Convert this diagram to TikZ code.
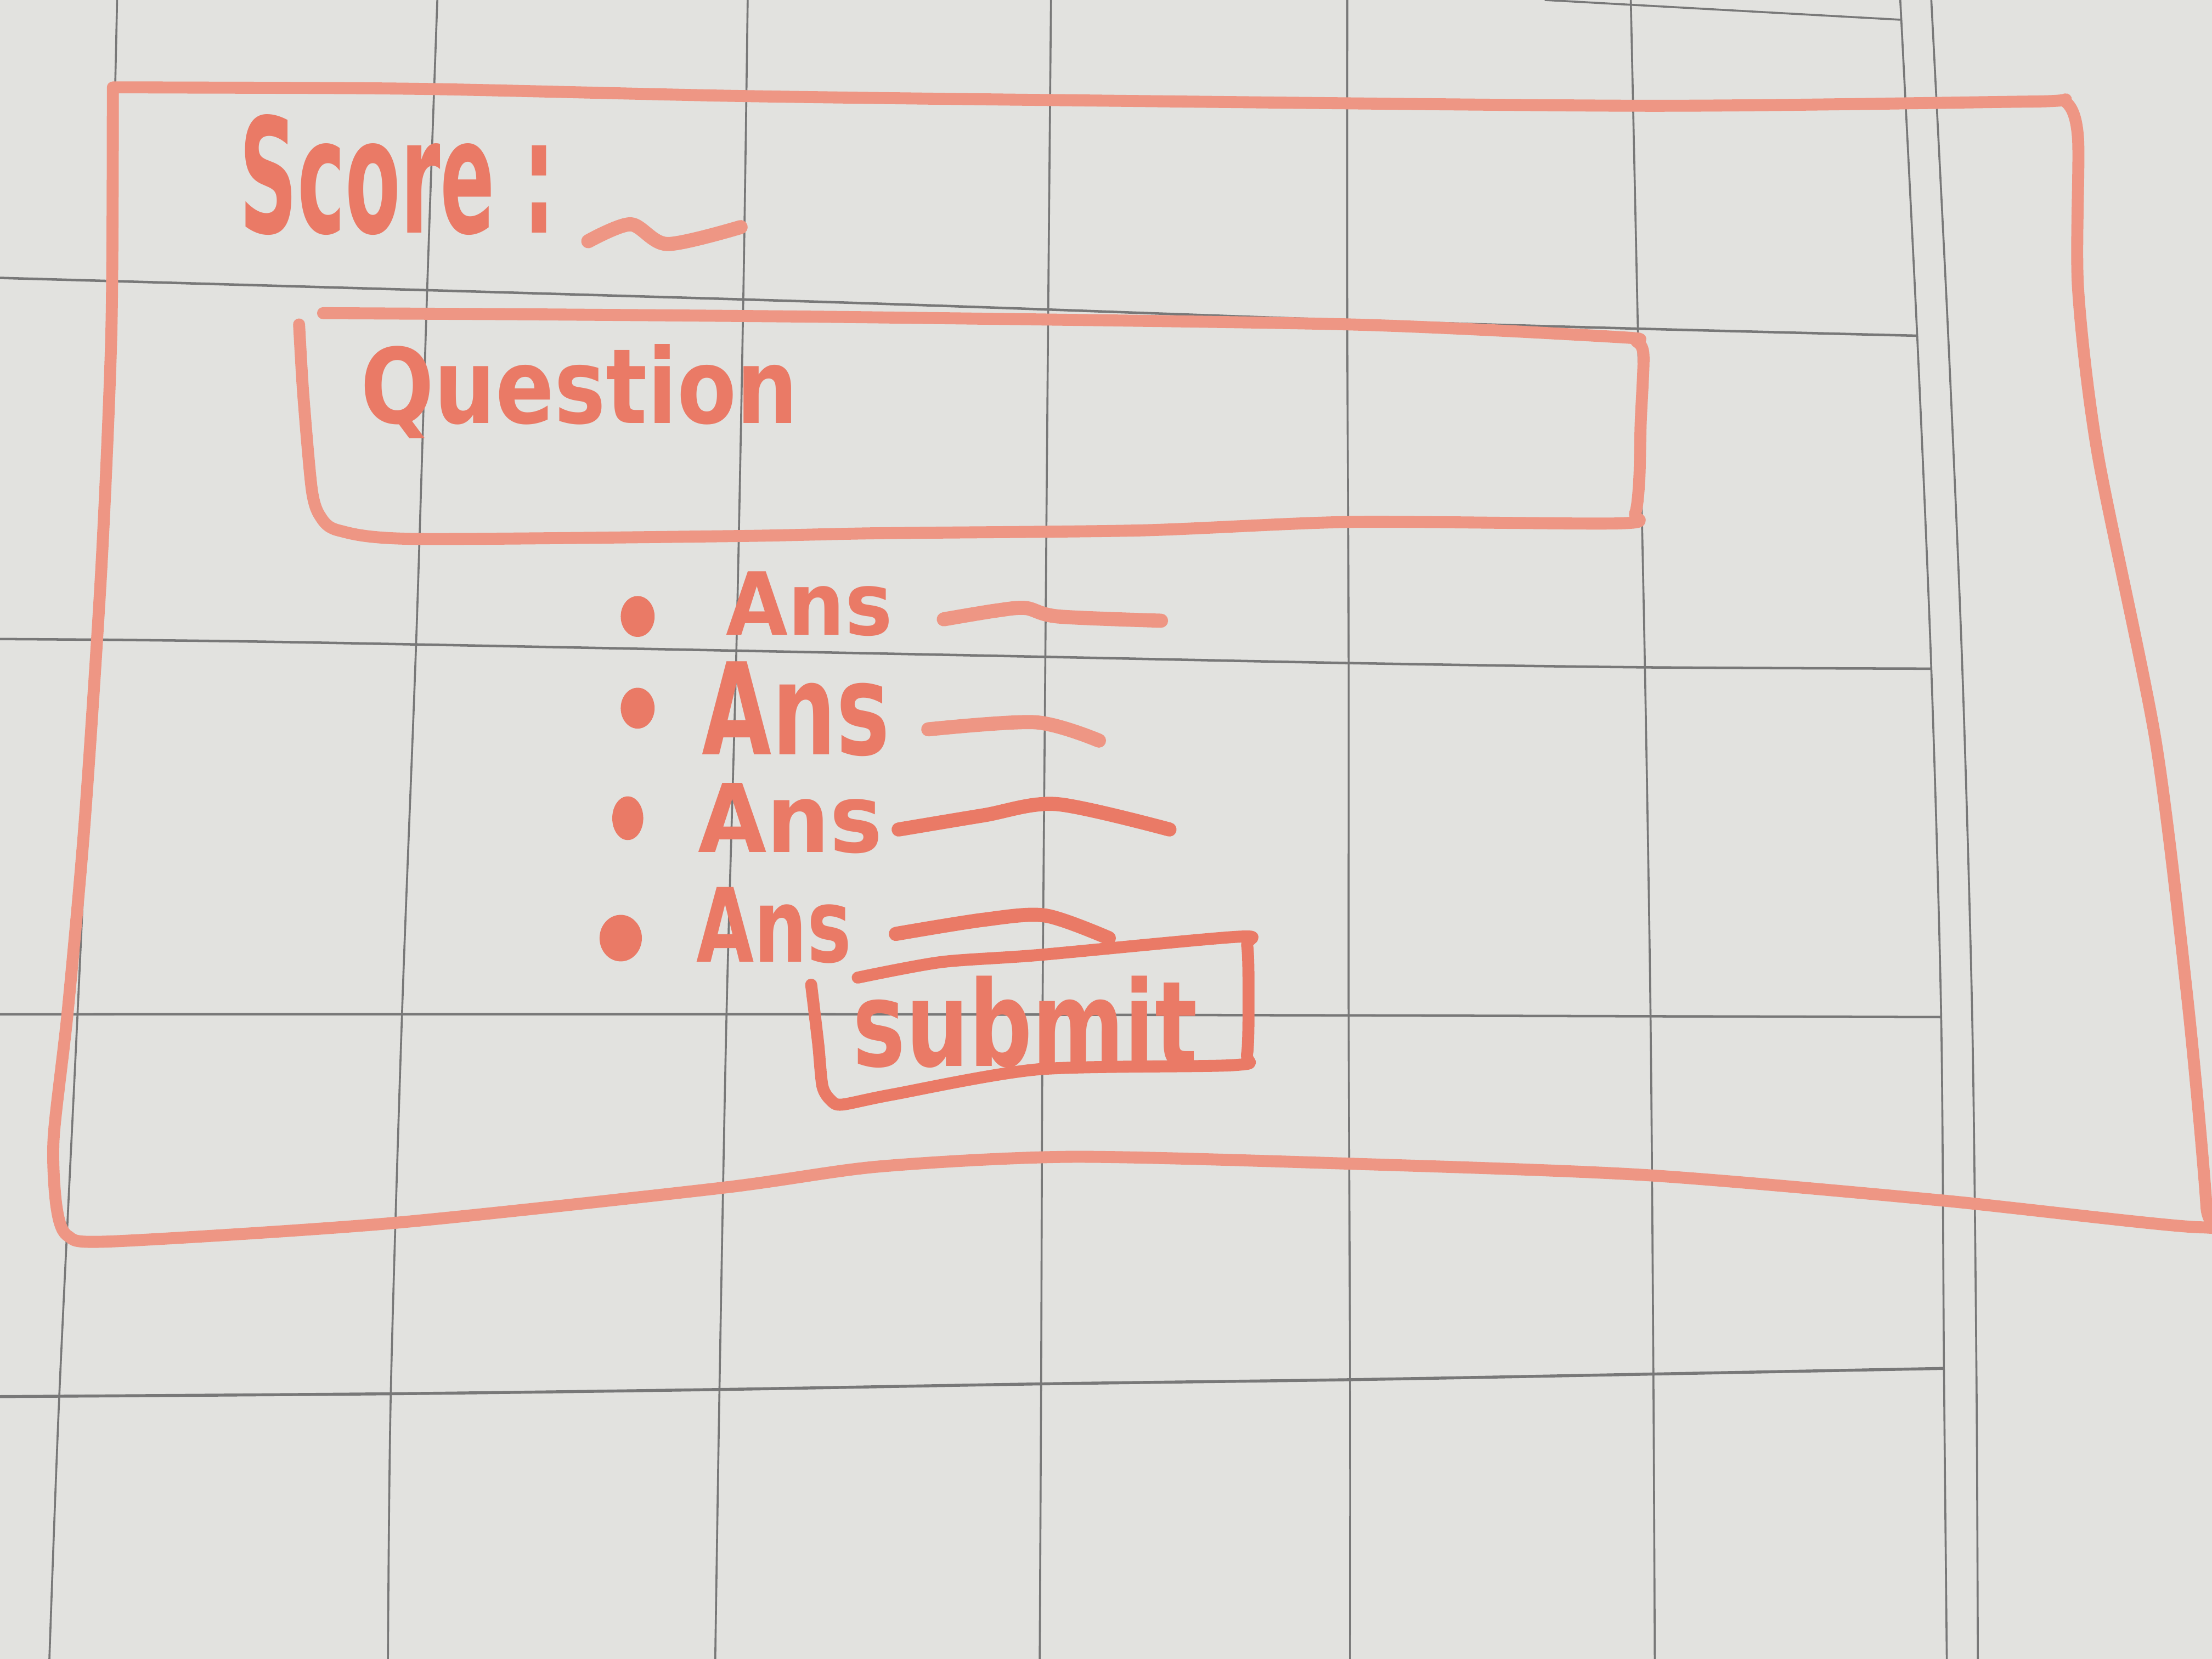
\documentclass[tikz,border=0pt]{standalone}
\usepackage{fontspec}
\setmainfont{DejaVu Sans}
\usepackage{graphicx}

\definecolor{board}{RGB}{226,226,223}
\definecolor{gridgray}{RGB}{120,120,120}
\definecolor{markerlt}{RGB}{238,150,132}
\definecolor{markerdk}{RGB}{234,122,102}

\tikzset{
  gridline/.style={gridgray, line width=0.4pt},
  frameline/.style={markerlt, line width=0.085cm, line cap=round, line join=round},
  penline/.style={markerdk, line width=0.10cm, line cap=round, line join=round},
  handtext/.style={markerdk, inner sep=0pt, anchor=base west, font=\bfseries},
  dot/.style={markerdk}
}

\begin{document}
\begin{tikzpicture}[x=1cm, y=-1cm]
\fill[board] (0,0) rectangle (15.68,11.76);
\useasboundingbox (0,0) rectangle (15.68,11.76);

% whiteboard grid
\draw[gridline] plot[smooth] coordinates {(0.83,0) (0.78,1.97) (0.67,4.55) (0.55,7.18) (0.42,9.90) (0.35,11.76)};
\draw[gridline] plot[smooth] coordinates {(3.10,0) (3.03,1.99) (2.95,4.55) (2.85,7.18) (2.77,9.88) (2.75,11.76)};
\draw[gridline] plot[smooth] coordinates {(5.30,0) (5.27,2.05) (5.22,4.60) (5.15,7.19) (5.10,9.85) (5.07,11.76)};
\draw[gridline] plot[smooth] coordinates {(7.45,0) (7.43,2.22) (7.41,4.65) (7.39,7.20) (7.38,9.81) (7.37,11.76)};
\draw[gridline] plot[smooth] coordinates {(9.55,0) (9.55,2.27) (9.56,4.70) (9.56,7.20) (9.57,9.78) (9.57,11.76)};
\draw[gridline] plot[smooth] coordinates {(11.56,0) (11.61,2.33) (11.66,4.73) (11.70,7.21) (11.72,9.74) (11.73,11.76)};
\draw[gridline] plot[smooth] coordinates {(13.47,0) (13.59,2.38) (13.69,4.74) (13.76,7.21) (13.78,9.73) (13.80,11.76)};
\draw[gridline] plot[smooth] coordinates {(13.69,0) (13.81,2.38) (13.91,4.74) (13.98,7.21) (14.01,9.73) (14.02,11.76)};

\draw[gridline] (10.95,0) -- (11.67,0.04) -- (13.47,0.14);
\draw[gridline, line width=0.5pt] plot[smooth] coordinates {(0,1.97) (5.83,2.14) (9.55,2.27) (11.61,2.33) (13.59,2.38)};
\draw[gridline, line width=0.5pt] plot[smooth] coordinates {(0,4.53) (1.94,4.55) (6.61,4.64) (9.55,4.70) (11.61,4.73) (13.69,4.74)};
\draw[gridline, line width=0.5pt] plot[smooth] coordinates {(0,7.19) (6.22,7.19) (13.76,7.21)};
\draw[gridline, line width=0.6pt] plot[smooth] coordinates {(0,9.90) (2.75,9.88) (5.07,9.85) (7.37,9.81) (9.57,9.78) (11.72,9.74) (13.78,9.70)};

% outer page frame
\draw[frameline] plot[smooth, tension=0.45] coordinates {
  (0.80,0.62) (1.12,0.62) (2.98,0.63) (5.21,0.68) (7.50,0.71) (11.67,0.75) (14.40,0.72) (14.64,0.72)
  (14.73,0.98) (14.73,2.04) (14.87,3.22) (15.28,5.25) (15.51,7.12) (15.64,8.55) (15.60,8.70)
  (13.77,8.51) (11.67,8.33) (9.60,8.25) (7.60,8.20) (6.22,8.27) (5.12,8.42) (2.78,8.67) (0.79,8.80)
  (0.48,8.76) (0.40,8.55) (0.38,8.07) (0.48,7.17) (0.60,5.83) (0.72,4.00) (0.79,2.33) (0.80,0.62)};

% score line
\node[handtext] (score) at (1.69,1.65) {\resizebox{2.24cm}{0.84cm}{Score :}};
\draw[penline, markerlt] plot[smooth] coordinates {(4.17,1.71) (4.47,1.59) (4.73,1.73) (5.25,1.61)};

% question box
\draw[frameline] plot[smooth, tension=0.45] coordinates {
  (2.12,2.30) (2.15,2.80) (2.21,3.47) (2.27,3.66) (2.40,3.76) (2.93,3.82) (5.22,3.80) (6.22,3.78)
  (8.08,3.76) (9.57,3.70) (11.48,3.71) (11.59,3.64) (11.62,3.40) (11.63,3.00) (11.65,2.52) (11.60,2.42)
  (11.48,2.39) (9.57,2.30) (6.22,2.25) (4.00,2.23) (2.29,2.22)};
\node[handtext] (question) at (2.55,3.00) {\resizebox{3.10cm}{0.56cm}{Question}};

% answer choices
\fill[dot] (4.52,4.37) ellipse (0.12cm and 0.145cm);
\fill[dot] (4.52,5.02) ellipse (0.12cm and 0.145cm);
\fill[dot] (4.45,5.80) ellipse (0.11cm and 0.155cm);
\fill[dot] (4.40,6.65) ellipse (0.15cm and 0.165cm);

\node[handtext] (ans1) at (5.14,4.50) {\resizebox{1.18cm}{0.45cm}{Ans}};
\node[handtext] (ans2) at (4.97,5.35) {\resizebox{1.33cm}{0.66cm}{Ans}};
\node[handtext] (ans3) at (4.94,6.04) {\resizebox{1.31cm}{0.49cm}{Ans}};
\node[handtext] (ans4) at (4.93,6.82) {\resizebox{1.10cm}{0.53cm}{Ans}};

\draw[penline, markerlt] plot[smooth] coordinates {(6.69,4.39) (7.05,4.33) (7.27,4.31) (7.50,4.37) (8.23,4.40)};
\draw[penline, markerlt] plot[smooth] coordinates {(6.58,5.17) (7.34,5.12) (7.79,5.25)};
\draw[penline] plot[smooth] coordinates {(6.37,5.88) (6.97,5.78) (7.49,5.70) (8.29,5.88)};
\draw[penline] plot[smooth] coordinates {(6.35,6.62) (6.97,6.52) (7.41,6.49) (7.86,6.65)};

% submit button
\draw[frameline, markerdk] plot[smooth, tension=0.45] coordinates {
  (5.75,6.98) (5.80,7.40) (5.83,7.70) (5.89,7.80) (5.97,7.83) (6.32,7.76) (7.36,7.58) (8.75,7.55)
  (8.84,7.47) (8.85,7.00) (8.84,6.70) (8.78,6.64) (7.36,6.77) (6.67,6.82) (6.08,6.93)};
\node[handtext] (submit) at (6.04,7.56) {\resizebox{2.44cm}{0.64cm}{submit}};

\end{tikzpicture}
\end{document}
